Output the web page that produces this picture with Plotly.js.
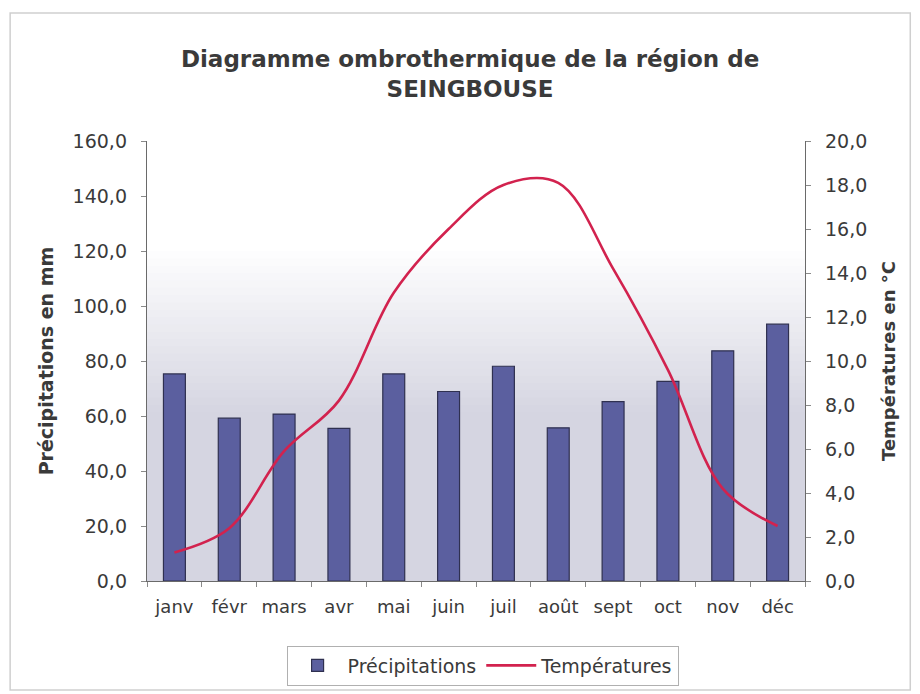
<!DOCTYPE html>
<html>
<head>
<meta charset="utf-8">
<script src="https://cdn.plot.ly/plotly-3.0.1.min.js"></script>
<style>html,body{margin:0;padding:0;background:#fff;}#chart{width:920px;height:694px;}</style>
</head>
<body>
<div id="chart"></div>
<script>
var months = ["janv","févr","mars","avr","mai","juin","juil","août","sept","oct","nov","déc"];
var precipitations = [75.3, 59.2, 60.7, 55.5, 75.3, 68.9, 78.1, 55.7, 65.2, 72.6, 83.7, 93.4];
var temperatures = [1.3, 2.4, 5.9, 8.2, 13.1, 16.0, 18.0, 18.1, 14.2, 9.6, 4.2, 2.5];
var leftTicks = [0, 20, 40, 60, 80, 100, 120, 140, 160];
var rightTicks = [0, 2, 4, 6, 8, 10, 12, 14, 16, 18, 20];

var fontFam = "DejaVu Sans, Liberation Sans, Arial, sans-serif";
var textCol = "#3a3a3a";

// gradient background bands for the plot area
var shapes = [];
var nb = 60;
for (var i = 0; i < nb; i++) {
  var y0 = i / nb, y1 = (i + 1) / nb;
  var mid = (y0 + y1) / 2;           // 0 bottom, 1 top
  var t = (mid - 0.38) / (0.76 - 0.38);
  t = Math.max(0, Math.min(1, t));
  var r = Math.round(213 + (255 - 213) * t);
  var g = Math.round(213 + (255 - 213) * t);
  var b = Math.round(225 + (255 - 225) * t);
  shapes.push({type: "rect", xref: "paper", yref: "paper", x0: 0, x1: 1, y0: y0, y1: y1 + 0.002,
    fillcolor: "rgb(" + r + "," + g + "," + b + ")", line: {width: 0}, layer: "below"});
}
// outer chart frame
shapes.push({type: "rect", xref: "paper", yref: "paper", x0: -0.208, x1: 1.16, y0: -0.248, y1: 1.291,
  line: {color: "#cfcfcf", width: 1.5}, fillcolor: "rgba(0,0,0,0)", layer: "below"});

var data = [
  {type: "bar", name: "Précipitations", x: months, y: precipitations,
   marker: {color: "#5b5f9f", line: {color: "#2f3050", width: 1.2}}, yaxis: "y"},
  {type: "scatter", mode: "lines", name: "Températures", x: months, y: temperatures,
   line: {color: "#d2224e", width: 2.6, shape: "spline", smoothing: 1}, yaxis: "y2"}
];

var layout = {
  width: 920, height: 694,
  paper_bgcolor: "#ffffff", plot_bgcolor: "rgba(0,0,0,0)",
  separators: ", ",
  margin: {l: 147, r: 115, t: 141, b: 113},
  font: {family: fontFam, color: textCol, size: 18},
  title: {text: "<b>Diagramme ombrothermique de la région de<br>SEINGBOUSE</b>",
    font: {family: fontFam, size: 23, color: textCol},
    x: 0.491, xanchor: "center", xref: "paper", y: 0.903, yanchor: "top", yref: "container"},
  bargap: 0.6,
  showlegend: true,
  legend: {orientation: "h", x: 0.51, xanchor: "center", xref: "paper", y: 0.041, yanchor: "middle", yref: "container",
    bordercolor: "#b0b0b0", borderwidth: 1, bgcolor: "#ffffff", font: {size: 19, family: fontFam, color: textCol},
    traceorder: "normal", itemwidth: 50},
  xaxis: {type: "category", showgrid: false, showline: true, linecolor: "#6a6a6a", linewidth: 1.2,
    ticks: "outside", tickson: "boundaries", ticklen: 5, tickcolor: "#8a8a8a", tickangle: 0,
    tickfont: {size: 18}, ticklabelstandoff: 9, mirror: false},
  yaxis: {range: [0, 160], tickvals: leftTicks, tickformat: ".1f", showgrid: false, zeroline: false,
    showline: true, linecolor: "#6a6a6a", linewidth: 1.2, ticks: "outside", ticklen: 5, tickcolor: "#8a8a8a",
    tickfont: {size: 19}, ticklabelstandoff: 10,
    title: {text: "<b>Précipitations en mm</b>", font: {size: 19, family: fontFam, color: textCol}, standoff: 14}},
  yaxis2: {range: [0, 20], tickvals: rightTicks, tickformat: ".1f", overlaying: "y", side: "right",
    showgrid: false, zeroline: false, showline: true, linecolor: "#6a6a6a", linewidth: 1.2,
    ticks: "outside", ticklen: 5, tickcolor: "#8a8a8a", tickfont: {size: 19}, ticklabelstandoff: 10,
    title: {text: "<b>Températures en °C</b>", font: {size: 18, family: fontFam, color: textCol}, standoff: 16}},
  shapes: shapes
};

Plotly.newPlot("chart", data, layout, {displayModeBar: false, staticPlot: true});
</script>
</body>
</html>
